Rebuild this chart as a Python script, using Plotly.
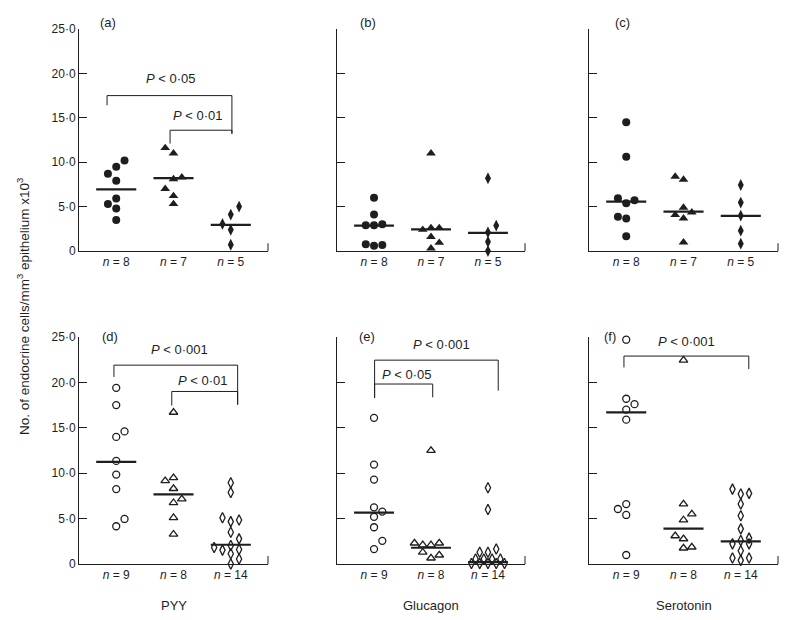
import plotly.graph_objects as go
import numpy as np

# ---------------- data ----------------
top_n_labels = ["8", "7", "5"]
bottom_n_labels = ["9", "8", "14"]
hormones = ["PYY", "Glucagon", "Serotonin"]
panel_letters = ["(a)", "(b)", "(c)", "(d)", "(e)", "(f)"]
y_tick_vals = [0, 5, 10, 15, 20, 25]
y_tick_text = ["0", "5·0", "10·0", "15·0", "20·0", "25·0"]

# panel (a) PYY, top row
a_grp1 = [10.2, 9.5, 8.7, 7.9, 5.9, 5.3, 4.8, 3.5]
a_grp2 = [11.6, 11.0, 8.1, 8.3, 7.0, 6.2, 5.3]
a_grp3 = [3.05, 4.1, 5.0, 2.4, 0.7]
a_medians = [6.95, 8.2, 2.95]

# panel (b) Glucagon, top row
b_grp1 = [6.0, 4.1, 2.9, 2.9, 3.0, 0.75, 0.6, 0.68]
b_grp2 = [11.0, 2.4, 2.6, 2.6, 1.6, 0.94, 0.3]
b_grp3 = [8.2, 2.86, 2.1, 1.05, 0.0]
b_medians = [2.86, 2.44, 2.03]

# panel (c) Serotonin, top row
c_grp1 = [14.5, 10.6, 5.94, 5.38, 5.71, 3.87, 3.65, 1.65]
c_grp2 = [8.38, 8.05, 4.89, 4.06, 4.36, 3.68, 0.98]
c_grp3 = [7.44, 5.45, 3.98, 2.29, 0.83]
c_medians = [5.56, 4.44, 3.95]

# panel (d) PYY, bottom row
d_grp1 = [19.4, 17.5, 14.0, 14.6, 11.35, 9.85, 8.25, 4.16, 4.96]
d_grp2 = [16.7, 9.16, 9.5, 8.3, 6.75, 7.15, 5.1, 3.28]
d_grp3 = [8.94, 7.88, 5.1, 4.67, 4.85, 3.5, 2.77, 2.04, 1.82, 1.53, 1.6, 1.13, 0.55, 0.0]
d_medians = [11.24, 7.66, 2.12]

# panel (e) Glucagon, bottom row
e_grp1 = [16.1, 10.95, 9.3, 6.24, 5.2, 5.77, 4.05, 2.55, 1.64]
e_grp2 = [12.5, 2.3, 2.1, 2.1, 2.3, 1.3, 0.65, 0.98]
e_grp3 = [8.4, 6.0, 1.65, 1.3, 1.3, 0.55, 0.55, 0.55, 0.55, 0.05, 0.05, 0.05, 0.05, 0.05]
e_medians = [5.66, 1.79, 0.2]

# panel (f) Serotonin, bottom row
f_grp1 = [24.7, 18.2, 17.6, 17.0, 15.9, 6.6, 6.06, 5.4, 0.99]
f_grp2 = [22.45, 6.6, 5.5, 4.85, 3.1, 2.77, 1.75, 1.86]
f_grp3 = [8.25, 7.7, 7.78, 6.6, 5.32, 3.87, 2.22, 2.59, 2.85, 2.22, 1.46, 0.66, 0.4, 0.66]
f_medians = [16.7, 3.9, 2.5]

# ---------------- layout helpers (positions / styles) ----------------
# horizontal scatter (beeswarm) slots, in units of one marker width
a_slots = [[1, 0, -1, 0, 0, -1, 0, 0], [-1, 0, 0, 1, -1, 0, 0], [-1, 0, 1, 0, 0]]
b_slots = [[0, 0, -1, 0, 1, -1, 0, 1], [0, -1, 0, 1, 0, 1, 0], [0, 1, 0, 0, 0]]
c_slots = [[0, 0, -1, 0, 1, -1, 0, 0], [-1, 0, 0, -1, 1, 0, 0], [0, 0, 0, 0, 0]]
d_slots = [[0, 0, 0, 1, 0, 0, 0, 0, 1], [0, -1, 0, 0, 0, 1, 0, 0],
           [0, 0, -1, 0, 1, 0, 1, 0, -2, -1, 1, 0, 1, 0]]
e_slots = [[0, 0, 0, 0, 0, 1, 0, 1, 0], [0, -2, -1, 0, 1, -1, 0, 1],
           [0, 0, 1, -1, 0, -1.5, -0.5, 0.5, 1.5, -2, -1, 0, 1, 2]]
f_slots = [[0, 0, 1, 0, 0, 0, -1, 0, 0], [0, 0, 1, 0, -1, 0, 0, 1],
           [-1, 0, 1, 0, 0, 0, -1, 0, 1, 1, 0, -1, 0, 1]]
STEP = 0.145

panels = [
    (a_grp1, a_grp2, a_grp3, a_medians, a_slots),
    (b_grp1, b_grp2, b_grp3, b_medians, b_slots),
    (c_grp1, c_grp2, c_grp3, c_medians, c_slots),
    (d_grp1, d_grp2, d_grp3, d_medians, d_slots),
    (e_grp1, e_grp2, e_grp3, e_medians, e_slots),
    (f_grp1, f_grp2, f_grp3, f_medians, f_slots),
]

# significance brackets: (panel, x_left, x_right, y_top, y_left_end, y_right_end, label, label_x, label_y)
brackets = [
    (0, 0.84, 3.02, 17.5, 16.4, 13.2, "0·05", 1.95, 19.45),
    (0, 1.94, 3.02, 13.6, 12.1, 13.2, "0·01", 2.43, 15.3),
    (3, 0.96, 3.12, 21.9, 20.6, 17.55, "0·001", 2.11, 23.66),
    (3, 1.97, 3.12, 19.0, 17.45, 17.55, "0·01", 2.51, 20.2),
    (4, 1.01, 3.18, 22.45, 18.29, 19.09, "0·001", 2.18, 24.2),
    (4, 1.01, 2.03, 19.82, 18.29, 18.36, "0·05", 1.57, 20.9),
    (5, 0.96, 3.14, 22.9, 21.65, 21.47, "0·001", 2.06, 24.5),
]
# panel letters in window pixels (x centre, y centre)
letter_px = [(108, 22), (368, 22), (622, 22), (110, 336), (367, 336), (610, 336)]

# the page body adds an 8px margin, so the figure is drawn 8px smaller and all
# window-pixel positions are shifted by that offset
OFF = 8
W, H = 787 - OFF, 620 - OFF
x_px = [(79, 268), (337, 525), (589, 778)]
y_px = [(29, 251), (337, 564)]


def px_x(v):
    return (v - OFF) / W


def px_y(v):
    return 1 - (v - OFF) / H


XR = [0.35, 3.65]
INK = "#1e1e1e"
FONT = "Liberation Sans, Arial, sans-serif"

top_symbols = ["circle", "triangle-up", "diamond-tall"]
bot_symbols = ["circle-open", "triangle-up-open", "diamond-tall-open"]
top_sizes = [8, 8.5, 8.5]
bot_sizes = [7, 7.5, 7.5]

fig = go.Figure()
layout_axes = {}
annotations = []
shapes = []

for p, (g1, g2, g3, med, slots) in enumerate(panels):
    row, col = divmod(p, 3)
    idx = p + 1
    xa = "x" if idx == 1 else f"x{idx}"
    ya = "y" if idx == 1 else f"y{idx}"
    groups = [g1, g2, g3]
    for g in range(3):
        vals = np.array(groups[g], dtype=float)
        xs = (g + 1) + STEP * np.array(slots[g], dtype=float)
        if row == 0:
            marker = dict(symbol=top_symbols[g], size=top_sizes[g], color=INK, line=dict(width=0))
        else:
            marker = dict(symbol=bot_symbols[g], size=bot_sizes[g], color=INK, line=dict(width=1.3, color=INK))
        fig.add_trace(go.Scatter(x=xs, y=vals, mode="markers", marker=marker,
                                 xaxis=xa, yaxis=ya, showlegend=False, cliponaxis=False,
                                 hoverinfo="y"))
        # median bar
        fig.add_trace(go.Scatter(x=[g + 1 - 0.35, g + 1 + 0.35], y=[med[g], med[g]], mode="lines",
                                 line=dict(color=INK, width=2.2), xaxis=xa, yaxis=ya,
                                 showlegend=False, cliponaxis=False, hoverinfo="skip"))
    x0, x1 = x_px[col]
    yt, yb = y_px[row]
    nlab = top_n_labels if row == 0 else bottom_n_labels
    layout_axes["xaxis" if idx == 1 else f"xaxis{idx}"] = dict(
        domain=[px_x(x0), px_x(x1)], range=XR, anchor=ya, automargin=False,
        showline=True, linecolor=INK, linewidth=1, showgrid=False, zeroline=False,
        tickvals=[1, 2, 3], ticktext=[f"<i>n</i> = {v}" for v in nlab],
        ticks="", ticklen=0,
        tickfont=dict(family=FONT, size=12, color=INK), fixedrange=True)
    layout_axes["yaxis" if idx == 1 else f"yaxis{idx}"] = dict(
        domain=[px_y(yb), px_y(yt)], range=[0, 25], anchor=xa, automargin=False,
        showline=True, linecolor=INK, linewidth=1, showgrid=False, zeroline=False,
        tickvals=y_tick_vals, ticktext=y_tick_text, ticks="inside", ticklen=8,
        tickcolor=INK, tickwidth=1, showticklabels=(col == 0),
        tickfont=dict(family=FONT, size=12, color=INK), fixedrange=True)
    # small upward tick at the right end of the x axis
    shapes.append(dict(type="line", xref=f"{xa} domain", yref=f"{ya} domain",
                       x0=1, x1=1, y0=0, y1=0.035, line=dict(color=INK, width=1)))
    # panel letter
    lx, ly = letter_px[p]
    annotations.append(dict(x=px_x(lx), y=px_y(ly), xref="paper", yref="paper", text=panel_letters[p],
                            showarrow=False, font=dict(family=FONT, size=13, color=INK),
                            xanchor="center", yanchor="middle"))

for (p, xl, xr, ytop, yle, yre, lab, lx, ly) in brackets:
    idx = p + 1
    xa = "x" if idx == 1 else f"x{idx}"
    ya = "y" if idx == 1 else f"y{idx}"
    fig.add_trace(go.Scatter(x=[xl, xl, xr, xr], y=[yle, ytop, ytop, yre], mode="lines",
                             line=dict(color=INK, width=1), xaxis=xa, yaxis=ya,
                             showlegend=False, cliponaxis=False, hoverinfo="skip"))
    annotations.append(dict(x=lx, y=ly, xref=xa, yref=ya, text=f"<i>P</i> < {lab}", showarrow=False,
                            font=dict(family=FONT, size=13, color=INK), xanchor="center", yanchor="middle"))

for col, name in enumerate(hormones):
    x0, x1 = x_px[col]
    annotations.append(dict(x=px_x((x0 + x1) / 2), y=px_y(605), xref="paper", yref="paper",
                            text=name, showarrow=False, xanchor="center", yanchor="middle",
                            font=dict(family=FONT, size=13, color=INK)))

annotations.append(dict(x=px_x(23), y=px_y(307), xref="paper", yref="paper", textangle=-90,
                        text="No. of endocrine cells/mm<sup>3</sup> epithelium x10<sup>3</sup>",
                        showarrow=False, xanchor="center", yanchor="middle",
                        font=dict(family=FONT, size=13.5, color=INK)))

fig.update_layout(width=W, height=H, margin=dict(l=0, r=0, t=0, b=0, pad=0),
                  paper_bgcolor="white", plot_bgcolor="white",
                  annotations=annotations, shapes=shapes, **layout_axes)

fig.write_html("out.html")
